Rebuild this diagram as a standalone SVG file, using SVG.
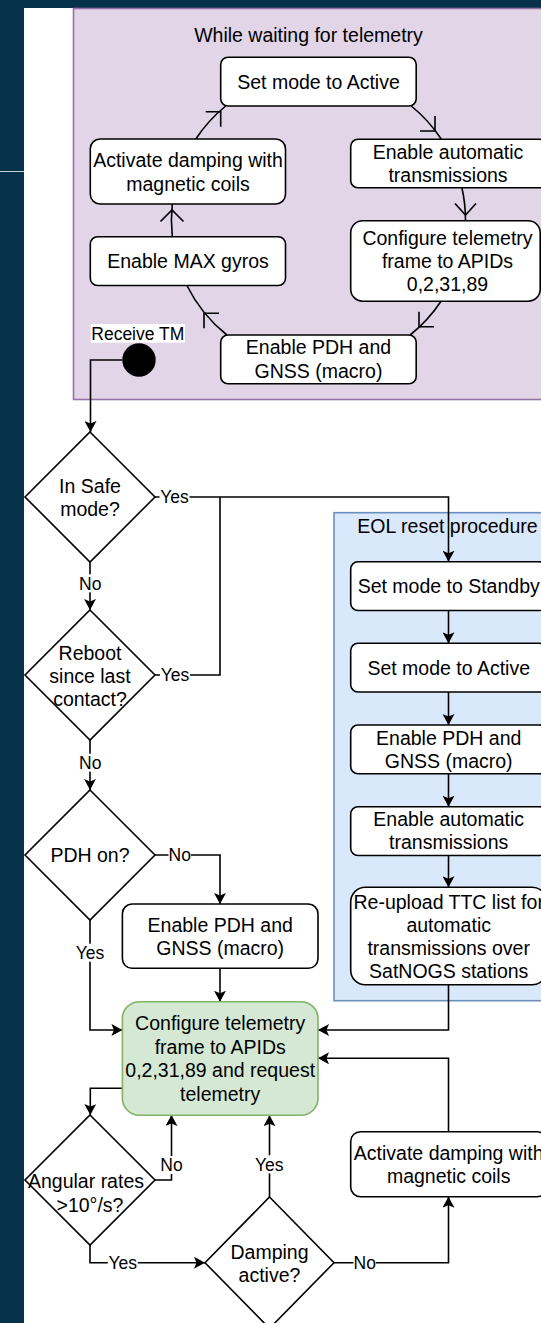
<svg xmlns="http://www.w3.org/2000/svg" width="541" height="1323" viewBox="0 0 541 1323">
<defs>
<style>
.t{font-family:"Liberation Sans",Arial,Helvetica,sans-serif;font-size:19.5px;fill:#000;text-anchor:middle}
.l{font-family:"Liberation Sans",Arial,Helvetica,sans-serif;font-size:17.5px;fill:#000;text-anchor:middle}
.box{fill:#fff;stroke:#000;stroke-width:1.6}
.dia{fill:#fff;stroke:#000;stroke-width:1.6}
.e{fill:none;stroke:#000;stroke-width:1.6}
.ea{fill:none;stroke:#000;stroke-width:1.6;marker-end:url(#arr)}
.oa{fill:none;stroke:#000;stroke-width:1.6;stroke-linejoin:miter}
.lbg{fill:#fff}
</style>
<marker id="arr" markerUnits="userSpaceOnUse" viewBox="0 0 11 12" refX="11" refY="6" markerWidth="11" markerHeight="12" orient="auto">
<path d="M0,0 L11,6 L0,12 L2.5,6 Z" fill="#000"/>
</marker>
</defs>

<g id="background">
<rect x="0" y="0" width="541" height="1323" fill="#06334b"/>
<rect x="24" y="8" width="517" height="1315" fill="#fff"/>
<line x1="0" y1="171.5" x2="24" y2="171.5" stroke="#c9d1d8" stroke-width="1"/>
</g>

<g id="container-waiting">
<rect x="73.5" y="8.5" width="480" height="391" fill="#e1d5e7" stroke="#9673a6" stroke-width="1.6"/>
<text class="t" x="308.5" y="42">While waiting for telemetry</text>
</g>

<g id="container-eol">
<rect x="334" y="512.7" width="230" height="488" fill="#dae8fc" stroke="#6c8ebf" stroke-width="1.6"/>
<text class="t" x="447.5" y="533">EOL reset procedure</text>
</g>

<g id="connectors">
<!-- cycle arcs -->
<path class="e" d="M195.8,139 A147,147 0 0 1 225.7,106"/>
<path class="oa" d="M205.7,111.7 L220.7,111.7 L220.7,126.7"/>
<path class="e" d="M411.3,106 A147,147 0 0 1 441.4,139.3"/>
<path class="oa" d="M435,116 L435,131 L420,131"/>
<path class="e" d="M461.9,187.7 A147,147 0 0 1 465.5,220.7"/>
<path class="oa" d="M455,203.5 L465.5,215 L476,203.5"/>
<path class="e" d="M441.2,301 A147,147 0 0 1 410.1,335"/>
<path class="oa" d="M419,311.7 L419,326.7 L434,326.7"/>
<path class="e" d="M226.9,335 A147,147 0 0 1 186.9,285.5"/>
<path class="oa" d="M219,313.3 L204,313.3 L204,328.3"/>
<path class="e" d="M172.3,236.7 A147,147 0 0 1 172.3,204"/>
<path class="oa" d="M160.5,221.5 L172,210 L183.5,221.5"/>

<!-- main flow -->
<path class="ea" d="M122.3,360 H90.5 V432"/>
<path class="ea" d="M155,497 H448.5 V561.7"/>
<path class="e" d="M155,675 H220 V497"/>
<path class="ea" d="M90,562 V610"/>
<path class="ea" d="M90,740 V790"/>
<path class="ea" d="M155,855 H220 V904"/>
<path class="ea" d="M90,920 V1030 H122.4"/>
<path class="ea" d="M220,968.3 V1001.7"/>
<path class="ea" d="M448.5,610.5 V643.3"/>
<path class="ea" d="M448.5,692 V725"/>
<path class="ea" d="M448.5,773.7 V806.7"/>
<path class="ea" d="M448.5,855.3 V887.3"/>
<path class="ea" d="M448.5,984.8 V1030 H318"/>
<path class="ea" d="M122.4,1088.3 H90.3 V1115"/>
<path class="ea" d="M155,1180 H171.5 V1115"/>
<path class="ea" d="M90,1245 V1262.7 H205"/>
<path class="ea" d="M269.5,1197 V1115.2"/>
<path class="ea" d="M334,1262.7 H448.5 V1196.7"/>
<path class="ea" d="M448.5,1131.7 V1058.3 H318"/>

<!-- edge labels -->
<rect class="lbg" x="159.5" y="488" width="30" height="18"/>
<text class="l" x="174.5" y="503.3">Yes</text>
<rect class="lbg" x="79" y="574.3" width="22.4" height="18"/>
<text class="l" x="90.2" y="589.6">No</text>
<rect class="lbg" x="160" y="666" width="30" height="18"/>
<text class="l" x="175" y="681.3">Yes</text>
<rect class="lbg" x="79" y="753.7" width="22.4" height="18"/>
<text class="l" x="90.2" y="769">No</text>
<rect class="lbg" x="168.5" y="846" width="22.4" height="18"/>
<text class="l" x="179.7" y="861.3">No</text>
<rect class="lbg" x="75" y="943.7" width="30" height="18"/>
<text class="l" x="90" y="959">Yes</text>
<rect class="lbg" x="160.3" y="1156" width="22.4" height="18"/>
<text class="l" x="171.5" y="1171.3">No</text>
<rect class="lbg" x="107.8" y="1253.7" width="30" height="18"/>
<text class="l" x="122.8" y="1269">Yes</text>
<rect class="lbg" x="254.3" y="1155.3" width="30" height="18"/>
<text class="l" x="269.3" y="1170.6">Yes</text>
<rect class="lbg" x="353.5" y="1253.7" width="22.4" height="18"/>
<text class="l" x="364.7" y="1269">No</text>
</g>

<g id="n-receive-tm">
<rect x="90.7" y="324" width="94.3" height="18.7" fill="#fff"/>
<text class="l" x="137.8" y="340">Receive TM</text>
<circle cx="139" cy="360" r="16.7" fill="#000"/>
</g>

<g id="n-set-active-cycle">
<rect class="box" x="220.7" y="57.3" width="195.5" height="48.75" rx="7.3"/>
<text class="t" x="318.5" y="88.7">Set mode to Active</text>
</g>
<g id="n-enable-auto-cycle">
<rect class="box" x="350.7" y="139.3" width="196" height="48.5" rx="7.3"/>
<text class="t" x="448" y="159">Enable automatic</text>
<text class="t" x="448" y="182.3">transmissions</text>
</g>
<g id="n-config-cycle">
<rect class="box" x="350.7" y="220.7" width="189.5" height="80.5" rx="12"/>
<text class="t" x="447.5" y="245">Configure telemetry</text>
<text class="t" x="447.5" y="268">frame to APIDs</text>
<text class="t" x="447.5" y="291">0,2,31,89</text>
</g>
<g id="n-pdh-cycle">
<rect class="box" x="220.7" y="335" width="195.5" height="48.75" rx="7.3"/>
<text class="t" x="318.5" y="354.3">Enable PDH and</text>
<text class="t" x="318.5" y="377.8">GNSS (macro)</text>
</g>
<g id="n-max-gyros">
<rect class="box" x="90.3" y="236.7" width="195.2" height="48.75" rx="7.3"/>
<text class="t" x="188" y="268">Enable MAX gyros</text>
</g>
<g id="n-damping-cycle">
<rect class="box" x="90.3" y="139" width="195.2" height="65" rx="9.75"/>
<text class="t" x="188" y="167">Activate damping with</text>
<text class="t" x="188" y="190.5">magnetic coils</text>
</g>

<g id="n-safe-mode">
<polygon class="dia" points="90,432 155,497 90,562 25,497"/>
<text class="t" x="90" y="492.5">In Safe</text>
<text class="t" x="90" y="515.5">mode?</text>
</g>
<g id="n-reboot">
<polygon class="dia" points="90,610 155,675 90,740 25,675"/>
<text class="t" x="90" y="659.5">Reboot</text>
<text class="t" x="90" y="682.5">since last</text>
<text class="t" x="90" y="705.5">contact?</text>
</g>
<g id="n-pdh-on">
<polygon class="dia" points="90,790 155,855 90,920 25,855"/>
<text class="t" x="90" y="862">PDH on?</text>
</g>
<g id="n-enable-pdh">
<rect class="box" x="122.4" y="904" width="195.6" height="64.3" rx="9.6"/>
<text class="t" x="220.2" y="931.5">Enable PDH and</text>
<text class="t" x="220.2" y="955">GNSS (macro)</text>
</g>
<g id="n-configure-request">
<rect x="122.4" y="1001.7" width="195.6" height="113.5" rx="17" fill="#d5e8d4" stroke="#82b366" stroke-width="1.6"/>
<text class="t" x="220.2" y="1030.3">Configure telemetry</text>
<text class="t" x="220.2" y="1053.8">frame to APIDs</text>
<text class="t" x="220.2" y="1077.3">0,2,31,89 and request</text>
<text class="t" x="220.2" y="1100.8">telemetry</text>
</g>
<g id="n-angular">
<polygon class="dia" points="90,1115 155,1180 90,1245 25,1180"/>
<text class="t" x="86" y="1187.5">Angular rates</text>
<text class="t" x="90" y="1211.5">&gt;10°/s?</text>
</g>
<g id="n-damping-active">
<polygon class="dia" points="269.5,1197 334,1262.7 269.5,1328.4 205,1262.7"/>
<text class="t" x="269.5" y="1258.5">Damping</text>
<text class="t" x="269.5" y="1282">active?</text>
</g>
<g id="n-activate-damping">
<rect class="box" x="350.7" y="1131.7" width="196" height="65" rx="9.75"/>
<text class="t" x="448.7" y="1159.7">Activate damping with</text>
<text class="t" x="448.7" y="1183">magnetic coils</text>
</g>

<g id="n-eol-standby">
<rect class="box" x="350.7" y="561.7" width="196" height="48.75" rx="7.3"/>
<text class="t" x="448.7" y="593">Set mode to Standby</text>
</g>
<g id="n-eol-active">
<rect class="box" x="350.7" y="643.3" width="196" height="48.75" rx="7.3"/>
<text class="t" x="448.7" y="674.7">Set mode to Active</text>
</g>
<g id="n-eol-pdh">
<rect class="box" x="350.7" y="725" width="196" height="48.75" rx="7.3"/>
<text class="t" x="448.7" y="744.8">Enable PDH and</text>
<text class="t" x="448.7" y="767.8">GNSS (macro)</text>
</g>
<g id="n-eol-auto">
<rect class="box" x="350.7" y="806.7" width="196" height="48.75" rx="7.3"/>
<text class="t" x="448.7" y="826.3">Enable automatic</text>
<text class="t" x="448.7" y="849.3">transmissions</text>
</g>
<g id="n-eol-reupload">
<rect class="box" x="350.7" y="887.3" width="196" height="97.5" rx="14.6"/>
<text class="t" x="448.7" y="908.5">Re-upload TTC list for</text>
<text class="t" x="448.7" y="931.5">automatic</text>
<text class="t" x="448.7" y="954.5">transmissions over</text>
<text class="t" x="448.7" y="977.5">SatNOGS stations</text>
</g>
</svg>
